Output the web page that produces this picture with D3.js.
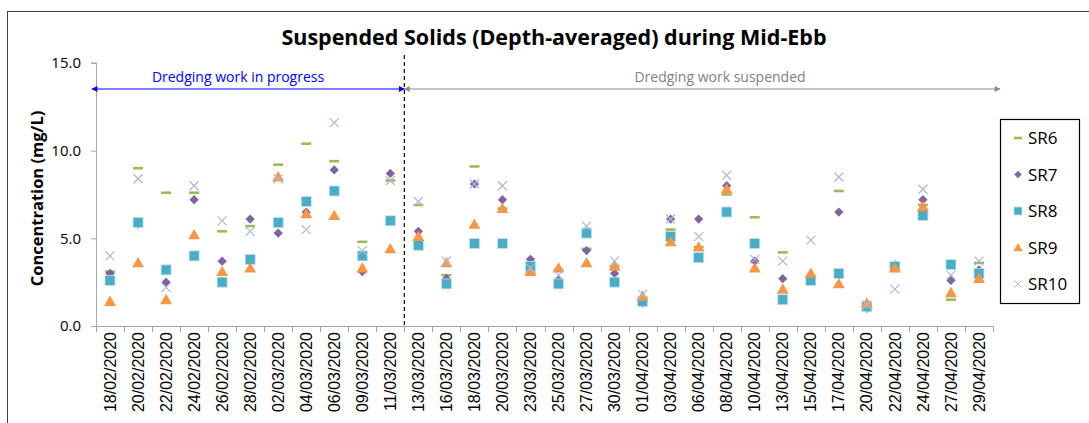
<!DOCTYPE html>
<html>
<head>
<meta charset="utf-8">
<script src="https://cdn.jsdelivr.net/npm/d3@7"></script>
<style>
  body { margin: 0; background: #fff; }
  svg { display: block; font-family: "Open Sans", "Noto Sans", sans-serif; }
</style>
</head>
<body>
<svg id="chart"></svg>
<script>
var dates = ["18/02/2020","20/02/2020","22/02/2020","24/02/2020","26/02/2020","28/02/2020",
  "02/03/2020","04/03/2020","06/03/2020","09/03/2020","11/03/2020","13/03/2020","16/03/2020",
  "18/03/2020","20/03/2020","23/03/2020","25/03/2020","27/03/2020","30/03/2020","01/04/2020",
  "03/04/2020","06/04/2020","08/04/2020","10/04/2020","13/04/2020","15/04/2020","17/04/2020",
  "20/04/2020","22/04/2020","24/04/2020","27/04/2020","29/04/2020"];

var sr6  = [3.1, 9.0, 7.6, 7.6, 5.4, 5.7, 9.2, 10.4, 9.4, 4.8, 8.3, 6.9, 2.9, 9.1, 6.7, 3.0, 3.2, 4.4, 3.4, 1.6, 5.5, 4.5, 7.5, 6.2, 4.2, 2.8, 7.7, 1.2, 3.4, 6.9, 1.5, 3.6];
var sr7  = [3.0, 5.8, 2.5, 7.2, 3.7, 6.1, 5.3, 6.5, 8.9, 3.1, 8.7, 5.4, 2.7, 8.1, 7.2, 3.8, 2.6, 4.3, 3.0, 1.3, 6.1, 6.1, 8.0, 3.7, 2.7, 2.7, 6.5, 1.0, 3.5, 7.2, 2.6, 3.2];
var sr8  = [2.6, 5.9, 3.2, 4.0, 2.5, 3.8, 5.9, 7.1, 7.7, 4.0, 6.0, 4.6, 2.4, 4.7, 4.7, 3.4, 2.4, 5.3, 2.5, 1.4, 5.1, 3.9, 6.5, 4.7, 1.5, 2.6, 3.0, 1.1, 3.4, 6.3, 3.5, 3.0];
var sr9  = [1.4, 3.6, 1.5, 5.2, 3.1, 3.3, 8.5, 6.4, 6.3, 3.3, 4.4, 5.1, 3.6, 5.8, 6.7, 3.1, 3.3, 3.6, 3.4, 1.7, 4.8, 4.5, 7.8, 3.3, 2.1, 3.0, 2.4, 1.3, 3.3, 6.8, 1.9, 2.7];
var sr10 = [4.0, 8.4, 2.2, 8.0, 6.0, 5.4, 8.4, 5.5, 11.6, 4.3, 8.3, 7.1, 3.7, 8.1, 8.0, 3.3, 2.9, 5.7, 3.7, 1.8, 6.1, 5.1, 8.6, 3.8, 3.7, 4.9, 8.5, 1.2, 2.1, 7.8, 2.9, 3.7];

var yTicks = [0, 5, 10, 15];
var splitIndex = 11; // dredging suspended from 13/03/2020

var series = [
  { name: "SR6",  values: sr6,  color: "#9bbb59", shape: "dash" },
  { name: "SR7",  values: sr7,  color: "#8064a2", shape: "diamond" },
  { name: "SR8",  values: sr8,  color: "#4bacc6", shape: "square" },
  { name: "SR9",  values: sr9,  color: "#f79646", shape: "triangle" },
  { name: "SR10", values: sr10, color: "#a9b9d9", shape: "cross" }
];

const width = 1089;
const height = 423;
const marginLeft = 96;
const plotRight = 993;
const marginTop = 63;
const plotBottom = 326;

const x = d3.scaleBand(dates, [marginLeft, plotRight]);
const y = d3.scaleLinear([0, 15], [plotBottom, marginTop]);

var svg = d3.select("#chart")
    .attr("width", width)
    .attr("height", height)
    .attr("viewBox", [0, 0, width, height]);

var defs = svg.append("defs");
function arrowHead(id, color) {
    defs.append("marker")
        .attr("id", id)
        .attr("viewBox", "0 0 10 10")
        .attr("refX", 9).attr("refY", 5)
        .attr("markerWidth", 7).attr("markerHeight", 6)
        .attr("orient", "auto-start-reverse")
        .attr("markerUnits", "userSpaceOnUse")
        .append("path")
        .attr("d", "M0,0 L10,5 L0,10 Z")
        .attr("fill", color);
}
arrowHead("arrBlue", "#0000ff");
arrowHead("arrGray", "#8c8c8c");

// outer chart border
svg.append("rect")
    .attr("x", 7.5).attr("y", 11.5)
    .attr("width", width).attr("height", height)
    .attr("fill", "none").attr("stroke", "#404040").attr("stroke-width", 1);

// title
svg.append("text")
    .attr("x", 554).attr("y", 45)
    .attr("text-anchor", "middle")
    .attr("font-size", 21.5).attr("font-weight", "bold")
    .attr("fill", "#000")
    .text("Suspended Solids (Depth-averaged) during Mid-Ebb");

// y axis
var yAxis = svg.append("g")
    .attr("transform", "translate(" + marginLeft + ",0)")
    .call(d3.axisLeft(y).tickValues(yTicks).tickFormat(d3.format(".1f")).tickSize(5).tickPadding(10));
yAxis.select(".domain").attr("stroke", "#a6a6a6").attr("d", "M-5," + y(15) + "H0.5V" + y(0));
yAxis.selectAll(".tick line").attr("stroke", "#a6a6a6");
yAxis.selectAll(".tick text").attr("font-size", 15).attr("fill", "#000").attr("font-family", "Open Sans");

svg.append("text")
    .attr("transform", "translate(43," + ((marginTop + plotBottom) / 2 + 4) + ") rotate(-90)")
    .attr("text-anchor", "middle")
    .attr("font-size", 16.5).attr("font-weight", "bold")
    .text("Concentration (mg/L)");

// x axis
var xAxis = svg.append("g")
    .attr("transform", "translate(0," + plotBottom + ")")
    .call(d3.axisBottom(x).tickSize(0).tickPadding(0));
xAxis.select(".domain").attr("stroke", "#a6a6a6").attr("d", "M" + marginLeft + ",0.5H" + plotRight);
xAxis.selectAll(".tick text")
    .attr("font-size", 16).attr("fill", "#000")
    .attr("transform", "rotate(-90)")
    .attr("text-anchor", "end")
    .attr("dy", "0.35em")
    .attr("x", -6).attr("y", 0);
// boundary ticks between categories
var bounds = dates.map(function(d) { return x(d); }).concat([plotRight]);
xAxis.selectAll(".bound").data(bounds).enter().append("line")
    .attr("x1", function(d) { return Math.round(d) + 0.5; })
    .attr("x2", function(d) { return Math.round(d) + 0.5; })
    .attr("y1", 0).attr("y2", 6)
    .attr("stroke", "#a6a6a6");

// divider between the two periods
var splitX = x(dates[splitIndex]);
svg.append("line")
    .attr("x1", splitX).attr("x2", splitX)
    .attr("y1", 55).attr("y2", plotBottom)
    .attr("stroke", "#000").attr("stroke-width", 1.2)
    .attr("stroke-dasharray", "4,3");

// period arrows
svg.append("line")
    .attr("x1", marginLeft - 4).attr("x2", splitX)
    .attr("y1", 89).attr("y2", 89)
    .attr("stroke", "#0000ff").attr("stroke-width", 1.2)
    .attr("marker-start", "url(#arrBlue)").attr("marker-end", "url(#arrBlue)");
svg.append("text")
    .attr("x", 238).attr("y", 82)
    .attr("text-anchor", "middle").attr("font-size", 14).attr("fill", "#0000ff")
    .text("Dredging work in progress");

svg.append("line")
    .attr("x1", splitX).attr("x2", 1000)
    .attr("y1", 89).attr("y2", 89)
    .attr("stroke", "#8c8c8c").attr("stroke-width", 1.2)
    .attr("marker-start", "url(#arrGray)").attr("marker-end", "url(#arrGray)");
svg.append("text")
    .attr("x", 720).attr("y", 82)
    .attr("text-anchor", "middle").attr("font-size", 14).attr("fill", "#7f7f7f")
    .text("Dredging work suspended");

// marker shapes
function drawMarker(g, shape, color, s) {
    if (shape === "dash") {
        g.append("rect").attr("x", -5 * s).attr("y", -1.3).attr("width", 10 * s).attr("height", 2.6).attr("fill", color);
    } else if (shape === "diamond") {
        g.append("path").attr("d", d3.symbol(d3.symbolDiamond2, 55 * s * s)()).attr("fill", color);
    } else if (shape === "square") {
        g.append("rect").attr("x", -5 * s).attr("y", -5 * s).attr("width", 10 * s).attr("height", 10 * s)
            .attr("fill", color).attr("stroke", "#bfe3ee").attr("stroke-width", 0.8);
    } else if (shape === "triangle") {
        g.append("path").attr("d", d3.symbol(d3.symbolTriangle, 62 * s * s)()).attr("transform", "translate(0,1)").attr("fill", color);
    } else if (shape === "cross") {
        g.append("path").attr("d", "M-4.5,-4.5L4.5,4.5M-4.5,4.5L4.5,-4.5")
            .attr("transform", "scale(" + s + ")")
            .attr("stroke", color).attr("stroke-width", 1.2).attr("fill", "none");
    }
}

var drawOrder = ["SR6", "SR7", "SR8", "SR9", "SR10"];
drawOrder.forEach(function(name) {
    var sr = series.find(function(s) { return s.name === name; });
    sr.values.forEach(function(v, i) {
        var g = svg.append("g")
            .attr("transform", "translate(" + (x(dates[i]) + x.bandwidth() / 2) + "," + y(v) + ")");
        drawMarker(g, sr.shape, sr.color, 1);
    });
});

// legend
var legend = svg.append("g");
legend.append("rect")
    .attr("x", 1000.5).attr("y", 119.5)
    .attr("width", 79).attr("height", 184)
    .attr("fill", "#fff").attr("stroke", "#000").attr("stroke-width", 1.2);
series.forEach(function(sr, i) {
    var ly = 138 + i * 36.5;
    var g = legend.append("g").attr("transform", "translate(1018," + ly + ")");
    drawMarker(g, sr.shape, sr.color, 0.8);
    legend.append("text")
        .attr("x", 1028).attr("y", ly).attr("dy", "0.36em")
        .attr("font-size", 17).attr("fill", "#000")
        .text(sr.name);
});
</script>
</body>
</html>
